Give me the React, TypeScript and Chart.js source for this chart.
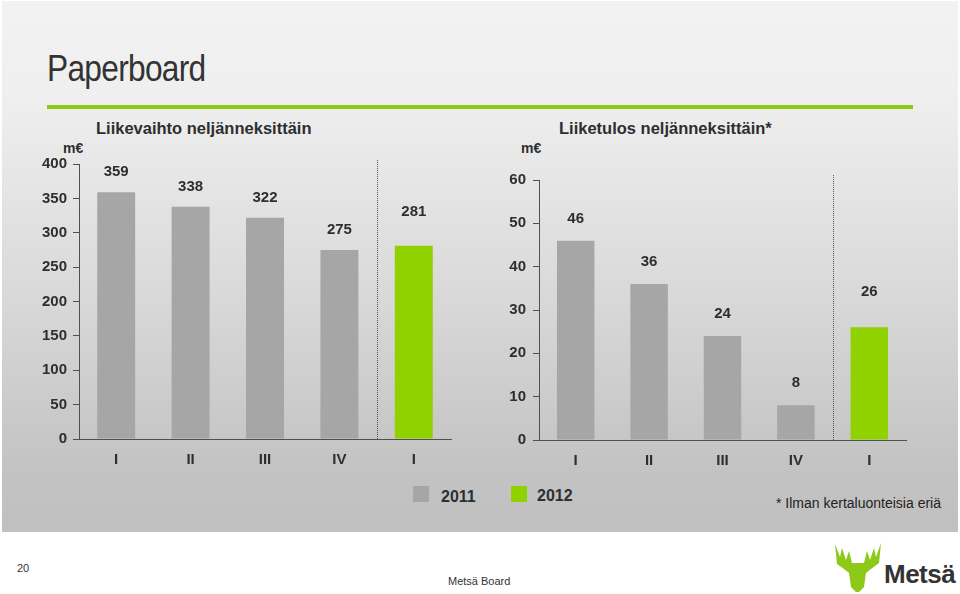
import React, { useEffect, useRef } from "react";
import { Chart, registerables } from "chart.js";

Chart.register(...registerables);

// ---------- data ----------
const quarters = ["I", "II", "III", "IV", "I"];
const revenue2011 = [359, 338, 322, 275, null];
const revenue2012 = [null, null, null, null, 281];
const profit2011 = [46, 36, 24, 8, null];
const profit2012 = [null, null, null, null, 26];
const seriesNames = ["2011", "2012"];
const revenueAxis = { min: 0, max: 400, step: 50 };
const profitAxis = { min: 0, max: 60, step: 10 };

// ---------- styles ----------
const FONT = "'Liberation Sans', Arial, Helvetica, sans-serif";
const GRAY = "#a6a6a6";
const GREEN = "#8fd200";
const LINE_GREEN = "#8dca14";
const TEXT = "#2e2e2e";
const AXIS = "#505050";

const valueLabels = {
  id: "valueLabels",
  afterDatasetsDraw(chart: any, _args: any, opts: any) {
    const ctx = chart.ctx;
    ctx.save();
    ctx.font = `bold 15px ${FONT}`;
    ctx.fillStyle = TEXT;
    ctx.textAlign = "center";
    ctx.textBaseline = "middle";
    chart.data.datasets.forEach((ds: any, i: number) => {
      const meta = chart.getDatasetMeta(i);
      meta.data.forEach((bar: any, j: number) => {
        const v = ds.data[j];
        if (v == null) return;
        const off = (opts.offsets && opts.offsets[i]) || 20;
        ctx.fillText(String(v), bar.x, bar.y - off);
      });
    });
    ctx.restore();
  },
};

const separator = {
  id: "separator",
  afterDatasetsDraw(chart: any, _args: any, opts: any) {
    const x = chart.scales.x;
    const px = (x.getPixelForValue(3) + x.getPixelForValue(4)) / 2;
    const ctx = chart.ctx;
    const { top, bottom } = chart.chartArea;
    ctx.save();
    ctx.strokeStyle = "#555";
    ctx.lineWidth = 1;
    ctx.setLineDash([1, 1]);
    ctx.beginPath();
    ctx.moveTo(Math.round(px) + 0.5, top - (opts.extend || 4));
    ctx.lineTo(Math.round(px) + 0.5, bottom);
    ctx.stroke();
    ctx.restore();
  },
};

function makeConfig(
  d2011: (number | null)[],
  d2012: (number | null)[],
  axis: { min: number; max: number; step: number },
  yWidth: number,
  xHeight: number,
  padTop: number,
  padRight: number,
  offsets: number[],
  extend: number,
  tickPad: number
): any {
  const tickFont = { family: FONT, size: 15, weight: "bold" as const };
  return {
    type: "bar",
    data: {
      labels: quarters,
      datasets: [
        {
          label: seriesNames[0],
          data: d2011,
          backgroundColor: GRAY,
          barPercentage: 0.51,
          categoryPercentage: 1,
        },
        {
          label: seriesNames[1],
          data: d2012,
          backgroundColor: GREEN,
          barPercentage: 0.51,
          categoryPercentage: 1,
        },
      ],
    },
    options: {
      responsive: false,
      animation: false,
      layout: { padding: { top: padTop, right: padRight, left: 0, bottom: 0 } },
      plugins: {
        legend: { display: false },
        tooltip: { enabled: false },
        valueLabels: { offsets },
        separator: { extend },
      },
      scales: {
        x: {
          stacked: true,
          grid: { display: false, drawTicks: false },
          border: { display: true, color: AXIS, width: 1 },
          ticks: { font: tickFont, color: TEXT, padding: 12 },
          afterFit: (s: any) => {
            s.height = xHeight;
          },
        },
        y: {
          stacked: true,
          min: axis.min,
          max: axis.max,
          ticks: { stepSize: axis.step, font: tickFont, color: TEXT, padding: tickPad },
          grid: { drawOnChartArea: false, drawTicks: true, tickLength: 6, color: AXIS },
          border: { display: true, color: AXIS, width: 1 },
          afterFit: (s: any) => {
            s.width = yWidth;
          },
        },
      },
    },
    plugins: [valueLabels, separator],
  };
}

function BarChart(props: {
  left: number;
  top: number;
  width: number;
  height: number;
  config: any;
}) {
  const ref = useRef<HTMLCanvasElement>(null);
  useEffect(() => {
    if (!ref.current) return;
    const chart = new Chart(ref.current, props.config);
    return () => chart.destroy();
  }, []);
  return (
    <canvas
      ref={ref}
      width={props.width}
      height={props.height}
      style={{
        position: "absolute",
        left: props.left,
        top: props.top,
        width: props.width,
        height: props.height,
      }}
    />
  );
}

const abs = (s: React.CSSProperties): React.CSSProperties => ({ position: "absolute", ...s });

export default function App() {
  const leftCfg = makeConfig(revenue2011, revenue2012, revenueAxis, 79, 41, 24, 19, [20, 34], 4, 6);
  const rightCfg = makeConfig(profit2011, profit2012, profitAxis, 69, 40, 40, 44, [22, 35], 5, 7);
  return (
    <div
      style={{
        position: "fixed",
        left: 0,
        top: 0,
        width: 960,
        height: 594,
        overflow: "hidden",
        background: "#ffffff",
        fontFamily: FONT,
        color: TEXT,
      }}
    >
      {/* slide panel */}
      <div
        style={abs({
          left: 2,
          top: 1,
          width: 956,
          height: 531,
          background: "linear-gradient(180deg, #f2f2f2 0%, #efefef 18%, #d9d9d9 55%, #c3c3c3 88%, #c0c0c0 100%)",
        })}
      />
      <div
        style={abs({
          left: 47,
          top: 47,
          fontFamily: FONT,
          fontSize: 36,
          lineHeight: "44px",
          color: "#333",
          letterSpacing: -0.8,
          transform: "scaleX(0.88)",
          transformOrigin: "0 0",
          whiteSpace: "nowrap",
        })}
      >
        Paperboard
      </div>
      <div style={abs({ left: 47, top: 105, width: 866, height: 4, background: LINE_GREEN })} />

      {/* chart titles */}
      <div style={abs({ left: 96, top: 118, fontSize: 16.5, fontWeight: "bold", lineHeight: "20px", whiteSpace: "nowrap" })}>
        Liikevaihto neljänneksittäin
      </div>
      <div style={abs({ left: 559, top: 118, fontSize: 16.5, fontWeight: "bold", lineHeight: "20px", whiteSpace: "nowrap" })}>
        Liiketulos neljänneksittäin*
      </div>
      <div style={abs({ left: 63, top: 139, fontSize: 14, fontWeight: "bold", lineHeight: "18px" })}>m€</div>
      <div style={abs({ left: 521, top: 139, fontSize: 14, fontWeight: "bold", lineHeight: "18px" })}>m€</div>

      <BarChart left={0} top={140} width={470} height={340} config={leftCfg} />
      <BarChart left={470} top={140} width={480} height={340} config={rightCfg} />

      {/* legend */}
      <div style={abs({ left: 413, top: 486, width: 16, height: 16, background: GRAY })} />
      <div style={abs({ left: 441, top: 487, fontSize: 16, fontWeight: "bold", lineHeight: "20px" })}>{seriesNames[0]}</div>
      <div style={abs({ left: 511, top: 486, width: 16, height: 16, background: GREEN })} />
      <div style={abs({ left: 537, top: 486, fontSize: 16, fontWeight: "bold", lineHeight: "20px" })}>{seriesNames[1]}</div>
      <div style={abs({ left: 776, top: 494, fontSize: 14, lineHeight: "18px", color: "#222", whiteSpace: "nowrap" })}>
        * Ilman kertaluonteisia eriä
      </div>

      {/* footer */}
      <div style={abs({ left: 17, top: 561, fontSize: 11, lineHeight: "14px", color: "#333" })}>20</div>
      <div style={abs({ left: 448, top: 574, fontSize: 11, lineHeight: "14px", color: "#333" })}>Metsä Board</div>
      <svg style={abs({ left: 834, top: 543 })} width={48} height={50} viewBox="0 0 48 50">
        <path
          d="M1,1 L6,14 L8,5 L12,17 L15,8 L18,20 L30,20 L33,8 L36,17 L40,5 L42,14 L47,0 L45,20 L37,26 L32,30 L30,44 L25,49 L22,49 L17,44 L15,30 L10,26 L3,21 Z"
          fill="#8cc919"
        />
      </svg>
      <div style={abs({ left: 884, top: 559, fontSize: 26, fontWeight: "bold", lineHeight: "30px", color: "#333", letterSpacing: -0.5 })}>
        Metsä
      </div>
    </div>
  );
}
